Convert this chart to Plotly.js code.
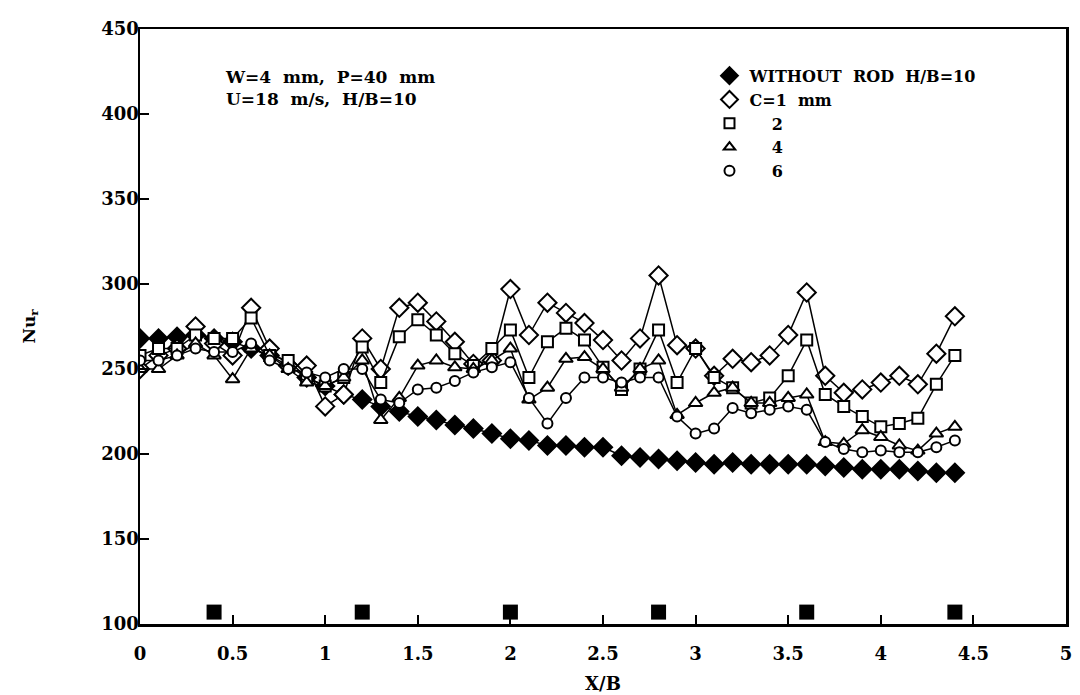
<!DOCTYPE html>
<html>
<head>
<meta charset="utf-8">
<script src="https://cdn.plot.ly/plotly-3.0.1.min.js"></script>
<style>html,body{margin:0;padding:0;background:#fff;}#chart{width:1080px;height:695px;}</style>
</head>
<body>
<div id="chart"></div>
<script>
const xB = [0,0.1,0.2,0.3,0.4,0.5,0.6,0.7,0.8,0.9,1.0,1.1,1.2,1.3,1.4,1.5,1.6,1.7,1.8,1.9,2.0,2.1,2.2,2.3,2.4,2.5,2.6,2.7,2.8,2.9,3.0,3.1,3.2,3.3,3.4,3.5,3.6,3.7,3.8,3.9,4.0,4.1,4.2,4.3,4.4];
const withoutRod = [268,268,269,270,268,266,262,258,252,245,240,235,232,228,225,222,220,217,215,212,209,208,205,205,204,204,199,198,197,196,195,194,195,194,194,194,194,193,192,191,191,191,190,189,189];
const c1 = [250,258,262,275,265,258,286,262,252,252,228,235,268,250,286,289,278,266,253,255,297,270,289,283,277,267,255,268,305,264,262,246,256,254,258,270,295,246,236,238,242,246,241,259,281];
const c2 = [258,262,262,270,268,268,280,258,255,245,240,245,263,242,269,279,270,259,252,262,273,245,266,274,267,251,238,250,273,242,262,245,239,230,233,246,267,235,228,222,216,218,221,241,258];
const c4 = [250,250,258,265,258,244,262,258,250,242,240,245,255,220,233,252,255,251,250,255,262,232,239,256,257,250,239,250,255,223,230,236,239,230,230,233,235,207,206,214,210,205,202,212,216];
const c6 = [255,255,258,262,260,260,265,255,250,248,245,250,250,232,230,238,239,243,248,251,254,233,218,233,245,245,242,245,245,222,212,215,227,224,226,228,226,207,203,201,202,201,201,204,208];
const rodX = [0.4,1.2,2.0,2.8,3.6,4.4];
const rodY = [107,107,107,107,107,107];
const names = ["WITHOUT\u00a0 ROD\u00a0 H/B=10","C=1\u00a0 mm","\u00a0\u00a0\u00a0 2","\u00a0\u00a0\u00a0 4","\u00a0\u00a0\u00a0 6"];
const symbols = ["diamond","diamond","square","triangle-up","circle"];
const sizes = [14,14,11,12,10];
const filled = [true,false,false,false,false];
const series = [withoutRod, c1, c2, c4, c6];

const FF = "DejaVu Serif";
const FONT = {family: FF, size: 17, color: "#000", weight: "bold"};
function mk(i, legendSize) {
  return {symbol: symbols[i], size: legendSize || sizes[i], color: filled[i] ? "#000" : "#fff", line: {color: "#000", width: 2}};
}
const data = [];
series.forEach((y, i) => {
  data.push({x: xB, y: y, name: names[i], type: "scatter", mode: "lines+markers",
    line: {color: "#000", width: 1.5}, marker: mk(i), showlegend: false, legendgroup: "g" + i});
});
series.forEach((y, i) => {
  data.push({x: [null], y: [null], name: names[i], type: "scatter", mode: "markers",
    marker: mk(i, i < 2 ? 13 : 10), showlegend: true, legendgroup: "g" + i});
});
data.push({x: rodX, y: rodY, type: "scatter", mode: "markers", showlegend: false,
  marker: {symbol: "square", size: 15, color: "#000"}});

const axisCommon = {
  showline: true, mirror: true, linecolor: "#000", linewidth: 2.5,
  ticks: "inside", ticklen: 9, tickwidth: 2, tickcolor: "#000",
  showgrid: false, zeroline: false,
  tickfont: {family: FF, size: 18, color: "#000", weight: "bold"}
};
const layout = {
  width: 1080, height: 695,
  margin: {l: 140, r: 14, t: 29, b: 71},
  paper_bgcolor: "#fff", plot_bgcolor: "#fff",
  xaxis: Object.assign({}, axisCommon, {range: [0, 5], dtick: 0.5, tick0: 0, ticklabelstandoff: 12,
    title: {text: "X/B", font: {family: FF, size: 18, color: "#000", weight: "bold"}, standoff: 15}}),
  yaxis: Object.assign({}, axisCommon, {range: [100, 450], dtick: 50, tick0: 100, ticklabelstandoff: -5,
    title: {text: "Nu<sub>r</sub>", font: {family: FF, size: 17, color: "#000", weight: "bold"}, standoff: 62}}),
  showlegend: true,
  legend: {x: 0.615, y: 0.95, xanchor: "left", yanchor: "top", bgcolor: "rgba(0,0,0,0)",
    font: {family: FF, size: 16, color: "#000", weight: "bold"}, tracegroupgap: 0, itemwidth: 30},
  annotations: [{
    xref: "paper", yref: "paper", x: 0.09, y: 0.94, xanchor: "left", yanchor: "top", align: "left",
    showarrow: false, text: "W=4\u00a0 mm,\u00a0 P=40\u00a0 mm<br>U=18\u00a0 m/s,\u00a0 H/B=10",
    font: FONT
  }]
};
Plotly.newPlot("chart", data, layout, {displayModeBar: false, staticPlot: true});
</script>
</body>
</html>
